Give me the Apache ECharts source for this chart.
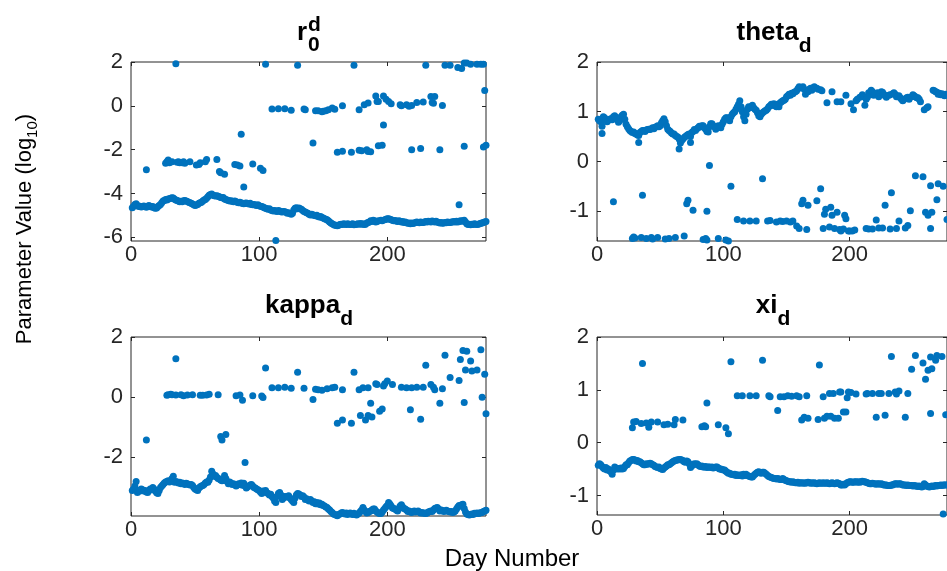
<!DOCTYPE html>
<html>
<head>
<meta charset="utf-8">
<title>Parameter values by day</title>
<script src="https://cdn.jsdelivr.net/npm/echarts@6/dist/echarts.min.js"></script>
<style>
  html, body { margin: 0; padding: 0; background: #fff; }
  #chart { width: 947px; height: 571px; }
</style>
</head>
<body>
<div id="chart"></div>
<script>
// tick labels
const xTicks = [0, 100, 200];
const r0Ticks = [-6, -4, -2, 0, 2];
const thetaTicks = [-1, 0, 1, 2];
const kappaTicks = [-2, 0, 2];
const xiTicks = [-1, 0, 1, 2];

// main band, one value per day (day 1 .. 277), null = no point
const r0Main = [
  -4.65,-4.58,-4.5,-4.47,-4.55,-4.6,-4.58,-4.62,-4.6,-4.57,
  -4.6,-4.63,-4.58,-4.55,-4.6,-4.62,-4.6,-4.65,-4.68,-4.66,
  -4.6,-4.55,-4.5,-4.42,-4.35,-4.32,-4.28,-4.3,-4.25,-4.24,
  -4.22,-4.2,-4.21,-4.26,-4.3,-4.32,-4.35,-4.38,-4.36,-4.38,
  -4.33,-4.32,-4.35,-4.37,-4.4,-4.42,-4.45,-4.48,-4.52,-4.55,
  -4.53,-4.5,-4.45,-4.42,-4.4,-4.35,-4.3,-4.28,-4.22,-4.15,
  -4.08,-4.05,-4.02,-4.08,-4.1,-4.12,-4.1,-4.13,-4.15,-4.18,
  -4.2,-4.18,-4.25,-4.28,-4.3,-4.32,-4.35,-4.33,-4.36,-4.38,
  -4.35,-4.38,-4.4,-4.42,-4.4,-4.43,-4.45,-4.47,-4.45,-4.44,
  -4.46,-4.48,-4.45,-4.5,-4.52,-4.5,-4.53,-4.55,-4.52,-4.56,
  -4.58,-4.6,-4.62,-4.65,-4.68,-4.7,-4.72,-4.7,-4.75,-4.78,
  -4.8,-4.78,-4.8,-4.82,-4.78,-4.8,-4.83,-4.85,-4.82,-4.84,
  -4.86,-4.9,-4.88,-4.92,-4.95,-4.9,-4.75,-4.68,-4.65,-4.7,
  -4.66,-4.7,-4.72,-4.78,-4.82,-4.85,-4.88,-4.9,-4.95,-4.98,
  -4.95,-4.98,-5.0,-5.02,-5.0,-5.05,-5.08,-5.05,-5.1,-5.12,
  -5.15,-5.18,-5.2,-5.25,-5.3,-5.35,-5.38,-5.42,-5.45,-5.45,
  -5.47,-5.45,-5.42,-5.4,-5.42,-5.38,-5.4,-5.42,-5.38,-5.4,
  -5.42,-5.4,-5.38,-5.43,-5.42,-5.4,-5.38,-5.4,-5.37,-5.4,
  -5.38,-5.42,-5.4,-5.35,-5.32,-5.3,-5.25,-5.28,-5.22,-5.25,
  -5.3,-5.28,-5.25,null,-5.22,-5.25,null,-5.2,-5.18,-5.15,
  -5.15,-5.18,-5.2,-5.22,-5.25,-5.24,-5.26,-5.28,-5.25,-5.27,
  -5.3,-5.28,-5.32,-5.3,-5.34,-5.36,-5.35,-5.38,-5.35,-5.37,
  -5.35,-5.33,-5.3,-5.32,-5.34,-5.3,-5.32,-5.33,-5.3,-5.28,
  -5.3,-5.27,-5.28,-5.3,-5.26,-5.28,-5.3,-5.27,-5.3,-5.32,
  -5.35,-5.33,-5.36,-5.35,-5.32,-5.34,-5.3,-5.32,-5.33,-5.3,
  -5.3,-5.28,-5.3,-5.27,-5.3,-5.28,-5.25,-5.27,-5.25,-5.22,
  -5.3,-5.38,-5.42,-5.4,-5.43,-5.4,-5.42,-5.38,-5.4,-5.42,
  -5.4,-5.38,-5.36,-5.35,-5.33,-5.3,-5.28
];
// other estimates as [day, value]
const r0Other = [
  [12,-2.92],[27,-2.62],[28,-2.55],[29,-2.47],[30,-2.6],[32,-2.55],[35,1.92],[36,-2.58],
  [37,-2.55],[38,-2.6],[40,-2.6],[41,-2.55],[42,-2.62],[46,-2.55],[51,-2.7],[53,-2.68],
  [54,-2.6],[58,-2.55],[59,-2.45],[67,-2.45],[69,-3.0],[70,-3.05],[73,-3.12],[81,-2.68],
  [83,-2.7],[85,-2.75],[86,-1.3],[88,-3.7],[95,-2.65],[101,-2.85],[103,-2.95],[105,1.9],
  [110,-0.15],[113,-6.15],[115,-0.13],[120,-0.13],[125,-0.2],[130,1.85],[135,-0.15],[136,-0.18],
  [142,-1.7],[144,-0.23],[146,-0.22],[149,-0.27],[150,-0.25],[152,-0.23],[154,-0.18],[157,-0.1],
  [159,-0.16],[161,-2.12],[165,0.0],[165,-2.07],[172,-2.12],[174,1.85],[178,-0.18],[178,-2.03],
  [180,-2.05],[182,0.05],[184,-2.0],[185,0.13],[185,-2.08],[187,-2.1],[191,0.45],[192,0.2],
  [193,0.2],[193,-1.82],[196,-1.8],[197,-0.88],[197,0.45],[199,0.3],[201,0.2],[203,0.1],
  [210,0.05],[211,0.0],[215,0.05],[217,-0.02],[219,0.02],[219,-2.0],[223,0.15],[226,-1.95],
  [228,0.18],[230,1.85],[234,0.42],[235,0.15],[236,0.12],[237,0.42],[241,-2.0],[243,0.02],
  [245,1.85],[249,1.85],[255,1.75],[256,-4.52],[258,1.7],[260,1.95],[260,-1.85],[262,1.95],
  [265,1.9],[270,1.9],[273,1.9],[275,1.9],[276,0.7],[275,-1.88],[277,-1.8]
];

const thetaMain = [
  0.85,0.82,0.8,0.71,0.9,0.88,0.84,0.8,0.83,0.85,
  0.86,0.84,0.9,0.92,0.88,0.85,0.79,0.82,0.9,0.93,
  0.95,0.85,0.75,0.7,0.66,0.62,0.6,0.58,0.59,0.56,
  0.55,0.53,0.52,0.58,0.6,0.62,0.62,0.6,0.63,0.64,
  0.65,0.64,0.66,0.68,0.66,0.69,0.7,0.72,0.7,0.72,
  0.78,0.82,0.86,0.8,0.72,0.65,0.62,0.6,0.57,0.55,
  0.55,0.52,0.5,0.49,0.45,0.37,0.42,0.45,0.48,0.5,
  0.52,0.54,0.55,0.5,0.58,0.6,0.64,0.62,0.66,0.68,
  0.71,0.7,0.72,0.72,0.68,0.65,0.6,0.59,0.7,0.76,
  0.76,0.72,0.7,0.65,0.68,0.72,0.7,0.68,0.75,0.8,
  0.85,0.88,0.88,0.85,0.82,0.9,0.95,0.98,1.0,1.05,
  1.1,1.15,1.22,1.1,1.0,0.9,0.82,0.95,1.05,1.1,
  1.08,1.1,1.13,1.08,1.05,1.03,0.98,0.92,0.9,0.95,
  0.98,1.0,1.02,1.03,1.06,1.1,1.12,1.15,1.13,1.16,
  1.12,1.1,1.15,1.1,1.18,1.2,1.22,1.23,1.25,1.3,
  1.32,1.35,1.33,1.37,1.36,1.39,1.4,1.42,1.46,1.5,
  1.48,null,1.5,1.45,1.35,null,1.4,1.45,1.47,1.43,
  1.48,1.5,null,1.47,1.45,null,1.44,1.42,null,null,
  null,1.18,null,null,null,1.4,null,null,null,1.2,
  null,null,1.2,null,null,null,1.33,null,null,null,
  1.16,null,1.04,null,1.22,1.25,null,1.29,null,1.34,
  1.3,1.13,1.25,1.29,1.38,1.35,1.43,1.4,1.33,1.35,
  null,1.38,1.3,1.36,1.4,1.39,1.35,1.32,1.29,null,
  1.33,1.34,null,1.36,1.38,1.35,1.3,1.31,1.32,1.28,
  1.25,1.22,1.25,null,1.28,1.29,1.25,null,1.3,1.34,
  1.32,1.3,1.28,1.28,1.25,1.2,null,null,1.04,null,
  1.08,1.1,null,null,null,1.43,1.42,1.4,1.39,1.35,
  1.37,1.34,1.36,1.34,1.32,1.35,1.33
];
const thetaOther = [
  [4,0.56],[13,-0.81],[28,-1.55],[29,-1.52],[30,-1.54],[33,0.38],[35,-1.53],[36,-0.68],
  [39,-1.55],[43,-1.53],[44,-1.56],[48,-1.53],[54,-1.56],[57,-1.55],[62,-1.53],[65,0.25],
  [69,-1.5],[71,-0.85],[72,-0.78],[74,0.38],[76,-0.98],[84,-1.57],[86,-1.55],[87,-1.58],
  [87,-1.0],[89,-0.08],[96,-1.55],[102,-1.58],[104,-1.6],[106,-0.5],[111,-1.17],[116,-1.2],
  [121,-1.2],[126,-1.2],[131,-0.35],[135,-1.2],[137,-1.19],[142,-1.22],[145,-1.2],[147,-1.21],
  [150,-1.2],[153,-1.22],[155,-1.2],[158,-1.3],[160,-1.35],[162,-0.85],[163,-0.78],[166,-1.37],
  [167,-0.88],[174,-0.79],[177,-0.55],[179,-1.35],[180,-1.06],[181,-0.96],[184,-1.32],[185,-0.92],
  [186,-1.08],[188,-1.35],[190,-1.02],[192,-1.37],[193,-1.4],[195,-1.36],[196,-1.08],[197,-1.15],
  [199,-1.4],[200,-1.4],[202,-1.4],[204,-1.38],[213,-1.35],[215,-1.36],[218,-1.36],[221,-1.18],
  [223,-1.34],[226,-1.34],[228,-0.88],[232,-1.36],[233,-0.63],[237,-1.35],[239,-1.2],[244,-1.34],
  [246,-1.29],[248,-0.99],[252,-0.29],[258,-0.31],[260,-1.02],[262,-1.08],[264,-1.35],[265,-1.02],
  [264,-0.49],[269,-0.77],[270,-0.45],[274,-0.5],[277,-1.17]
];

const kappaMain = [
  -3.1,-3.05,-2.95,-2.8,-3.17,-3.1,-3.12,-3.05,-3.08,-3.12,
  -3.1,-3.15,-3.17,-3.1,-3.05,-3.08,-3.0,-3.05,-3.12,-3.18,
  -3.2,-3.1,-3.0,-2.95,-2.9,-2.85,-2.82,-2.8,-2.78,-2.82,
  -2.78,-2.7,-2.63,-2.83,-2.8,-2.82,-2.85,-2.83,-2.88,-2.85,
  -2.87,-2.9,-2.86,-2.88,-2.9,-2.92,-2.9,-2.94,-3.0,-3.05,
  -3.08,-3.1,-3.02,-2.98,-2.95,-2.94,-2.9,-2.85,-2.82,-2.83,
  -2.75,-2.65,-2.46,-2.55,-2.63,-2.6,-2.66,-2.7,-2.72,-2.75,
  -2.78,-2.77,-2.6,-2.7,-2.8,-2.88,-2.82,-2.85,-2.9,-2.88,
  -2.9,-2.95,-2.92,-2.88,-2.9,-2.85,-2.93,-2.86,-2.95,-3.02,
  -2.98,-2.95,-2.92,-2.9,-2.95,-3.0,-3.02,-3.05,-3.08,-3.1,
  -3.15,-3.2,-3.12,-3.15,-3.1,-3.18,-3.2,-3.25,-3.23,-3.3,
  -3.35,-3.45,-3.5,-3.3,-3.2,-3.17,-3.25,-3.4,-3.35,-3.3,
  -3.32,-3.3,-3.28,-3.35,-3.4,-3.45,-3.5,-3.35,-3.25,-3.2,
  -3.22,-3.25,-3.3,-3.28,-3.32,-3.4,-3.38,-3.42,-3.45,-3.4,
  -3.45,-3.5,-3.48,-3.54,-3.5,-3.55,-3.52,-3.58,-3.56,-3.6,
  -3.62,-3.65,-3.67,-3.72,-3.75,-3.8,-3.83,-3.88,-3.9,-3.92,
  -3.94,-3.9,-3.88,-3.85,-3.83,-3.86,-3.88,-3.85,-3.9,-3.87,
  -3.85,-3.88,-3.9,-3.86,-3.9,-3.92,-3.88,-3.85,-3.8,-3.75,
  -3.67,-3.75,-3.8,-3.85,-3.83,-3.8,-3.78,-3.75,-3.72,-3.72,
  -3.78,-3.82,-3.85,-3.87,-3.87,-3.82,-3.75,-3.7,-3.64,-3.6,
  -3.5,-3.55,-3.62,-3.68,-3.7,-3.72,-3.75,-3.78,-3.7,-3.62,
  -3.58,-3.65,-3.7,-3.72,-3.75,-3.8,-3.78,-3.82,-3.83,-3.8,
  -3.78,-3.82,-3.8,-3.78,-3.82,-3.85,-3.83,-3.86,-3.85,-3.87,
  -3.85,-3.82,-3.8,-3.78,-3.8,-3.75,-3.7,-3.68,-3.67,-3.72,
  -3.78,-3.75,-3.77,-3.8,-3.78,-3.76,-3.78,-3.8,-3.82,-3.8,
  -3.83,-3.82,-3.78,-3.72,-3.65,-3.6,-3.62,-3.58,-3.56,-3.7,
  -3.82,-3.88,-3.9,-3.92,-3.9,-3.88,-3.9,-3.86,-3.87,-3.85,
  -3.87,-3.85,-3.84,-3.83,-3.8,-3.78,-3.76
];
const kappaOther = [
  [12,-1.42],[28,0.06],[29,0.08],[31,0.1],[32,0.08],[35,1.28],[35,0.07],[39,0.08],
  [41,0.05],[44,0.07],[48,0.08],[54,0.06],[56,0.06],[59,0.07],[61,0.1],[68,0.08],
  [70,-1.31],[71,-1.42],[74,-1.24],[82,0.05],[85,0.07],[87,-0.1],[89,-2.17],[95,0.05],
  [102,0.04],[103,-0.01],[105,0.97],[110,0.31],[115,0.31],[120,0.33],[125,0.3],[130,0.83],
  [135,0.3],[142,-0.08],[144,0.26],[146,0.25],[149,0.23],[153,0.28],[157,0.31],[159,0.33],
  [161,-0.87],[165,-0.76],[165,0.25],[172,-0.87],[174,0.83],[178,0.25],[179,-0.61],[181,0.31],
  [183,-0.76],[185,0.31],[185,-0.61],[187,-0.2],[188,-0.66],[191,0.45],[192,0.42],[194,-0.47],
  [196,-0.39],[197,0.37],[198,0.45],[200,0.54],[204,0.42],[211,0.33],[215,0.31],[219,0.31],
  [218,-0.42],[223,0.33],[226,-0.73],[228,0.33],[230,1.06],[234,0.42],[236,0.33],[237,0.25],
  [241,-0.2],[243,0.28],[245,1.39],[249,0.65],[256,0.55],[257,1.25],[259,1.55],[260,-0.18],
  [261,0.9],[262,1.53],[265,1.2],[266,0.87],[270,0.9],[273,1.58],[274,0.0],[276,0.76],
  [277,-0.55]
];

const xiMain = [
  -0.43,-0.4,-0.42,-0.45,-0.48,-0.5,-0.47,-0.52,-0.5,-0.53,
  -0.55,-0.6,-0.52,-0.46,-0.48,-0.5,-0.49,-0.5,-0.48,-0.5,
  -0.49,-0.45,-0.42,-0.42,-0.38,-0.35,-0.34,-0.32,-0.32,-0.33,
  -0.35,-0.34,-0.36,-0.36,-0.38,-0.4,-0.42,-0.42,-0.4,-0.41,
  -0.4,-0.39,-0.4,-0.42,-0.43,-0.45,-0.46,-0.47,-0.46,-0.49,
  -0.5,-0.51,-0.48,-0.46,-0.44,-0.42,-0.42,-0.4,-0.38,-0.36,
  -0.35,-0.34,-0.33,-0.33,-0.32,-0.32,-0.33,-0.34,-0.36,-0.37,
  -0.35,-0.36,-0.4,-0.47,-0.44,-0.42,-0.4,-0.41,-0.4,-0.42,
  -0.44,-0.45,-0.44,-0.46,-0.46,-0.45,-0.47,-0.46,-0.46,-0.47,
  -0.46,-0.48,-0.47,-0.46,-0.46,-0.48,-0.5,-0.5,-0.51,-0.52,
  -0.52,-0.54,-0.56,-0.58,-0.58,-0.6,-0.6,-0.61,-0.6,-0.62,
  -0.61,-0.62,-0.62,-0.61,-0.63,-0.6,-0.62,-0.6,-0.62,-0.63,
  -0.64,-0.65,-0.65,-0.62,-0.6,-0.58,-0.56,-0.55,-0.57,-0.58,
  -0.56,-0.56,-0.58,-0.6,-0.62,-0.64,-0.65,-0.66,-0.67,-0.68,
  -0.68,-0.69,-0.68,-0.69,-0.7,-0.7,-0.68,-0.7,-0.71,-0.72,
  -0.73,-0.74,-0.74,-0.75,-0.74,-0.75,-0.76,-0.76,-0.75,-0.77,
  -0.76,-0.76,-0.77,-0.76,-0.77,-0.76,-0.75,-0.76,-0.77,-0.76,
  -0.77,-0.76,-0.77,-0.78,-0.77,-0.76,-0.77,-0.77,-0.76,-0.77,
  -0.77,-0.76,-0.77,-0.78,-0.77,-0.76,-0.77,-0.78,-0.77,-0.76,
  -0.77,-0.78,-0.8,-0.8,-0.79,-0.8,-0.78,-0.76,-0.75,-0.74,
  -0.74,-0.75,-0.75,-0.74,-0.74,-0.75,-0.74,-0.75,-0.74,-0.73,
  -0.74,-0.74,-0.75,-0.76,-0.77,-0.78,-0.78,-0.77,-0.78,-0.78,
  -0.79,-0.78,-0.78,-0.79,-0.78,-0.79,-0.8,-0.8,-0.8,-0.81,
  -0.81,-0.81,-0.8,-0.8,-0.79,-0.78,-0.78,-0.79,-0.78,-0.78,
  -0.79,-0.8,-0.8,-0.8,-0.81,-0.8,-0.81,-0.81,-0.81,-0.82,
  -0.81,-0.82,-0.82,-0.83,-0.82,-0.83,-0.84,-0.83,-0.78,-0.8,
  -0.82,-0.83,-0.84,-0.83,-0.82,-0.83,-0.82,-0.81,-0.82,-0.81,
  -0.81,-0.8,-0.81,-0.8,-0.8,-0.8,-0.8
];
const xiOther = [
  [28,0.28],[29,0.39],[31,0.4],[35,0.36],[36,1.5],[39,0.37],[41,0.29],[43,0.39],
  [48,0.39],[53,0.34],[56,0.35],[61,0.34],[62,0.44],[68,0.43],[83,0.3],[85,0.32],
  [86,0.3],[87,0.75],[96,0.34],[102,0.28],[104,0.17],[106,1.53],[111,0.89],[115,0.89],
  [121,0.89],[126,0.89],[131,1.56],[136,0.89],[137,0.87],[143,0.61],[145,0.87],[148,0.87],
  [151,0.89],[154,0.88],[158,0.89],[160,0.87],[162,0.43],[164,0.48],[166,0.89],[167,0.46],
  [175,0.44],[176,1.47],[179,0.87],[180,0.46],[182,0.5],[184,0.93],[185,0.5],[187,0.93],
  [188,0.46],[191,0.46],[192,0.96],[193,0.96],[195,0.58],[197,0.58],[198,0.85],[199,0.96],
  [201,0.95],[205,0.92],[213,0.92],[214,0.93],[218,0.93],[221,0.48],[223,0.93],[225,0.93],
  [228,0.52],[231,0.93],[233,1.63],[236,0.96],[237,0.92],[239,0.98],[244,0.48],[246,0.93],
  [249,1.39],[252,1.65],[258,1.51],[260,1.2],[262,1.37],[264,1.62],[264,0.55],[265,1.4],
  [268,1.56],[269,1.65],[273,1.63],[274,-1.35],[276,0.53]
];

const FONT = '"Liberation Sans", Arial, Helvetica, sans-serif';
const INK = '#262626';
const BLUE = '#0072BD';
const X_MAX = 277;

const panels = [
  { main: r0Main, other: r0Other, ticks: r0Ticks, min: -6.17, box: { left: 131, top: 62, width: 355, height: 179 } },
  { main: thetaMain, other: thetaOther, ticks: thetaTicks, min: -1.6, box: { left: 597, top: 62, width: 352, height: 179 } },
  { main: kappaMain, other: kappaOther, ticks: kappaTicks, min: -3.95, box: { left: 131, top: 337, width: 355, height: 179 } },
  { main: xiMain, other: xiOther, ticks: xiTicks, min: -1.37, box: { left: 597, top: 337, width: 352, height: 178 } }
];

function dayPoints(main) {
  const pts = [];
  main.forEach((v, i) => { if (v !== null) pts.push([i + 1, v]); });
  return pts;
}

const labelStyle = { color: INK, fontSize: 22, fontFamily: FONT };
const grids = [], xAxes = [], yAxes = [], series = [];

panels.forEach((p, i) => {
  grids.push(Object.assign({ show: true, borderColor: INK, borderWidth: 1, backgroundColor: 'transparent' }, p.box));
  const tick = (vals) => ({ inside: true, length: 4, customValues: vals, lineStyle: { color: INK } });
  const noLine = { show: false, onZero: false };
  xAxes.push({
    type: 'value', gridIndex: i, min: 0, max: X_MAX, position: 'bottom',
    axisLine: noLine, splitLine: { show: false },
    axisTick: tick(xTicks),
    axisLabel: Object.assign({ customValues: xTicks, margin: 3 }, labelStyle)
  });
  xAxes.push({
    type: 'value', gridIndex: i, min: 0, max: X_MAX, position: 'top',
    axisLine: noLine, splitLine: { show: false },
    axisTick: tick(xTicks), axisLabel: { show: false }
  });
  yAxes.push({
    type: 'value', gridIndex: i, min: p.min, max: 2, position: 'left',
    axisLine: noLine, splitLine: { show: false },
    axisTick: tick(p.ticks),
    axisLabel: Object.assign({ customValues: p.ticks, margin: 8 }, labelStyle)
  });
  yAxes.push({
    type: 'value', gridIndex: i, min: p.min, max: 2, position: 'right',
    axisLine: noLine, splitLine: { show: false },
    axisTick: tick(p.ticks), axisLabel: { show: false }
  });
  series.push({
    type: 'scatter', xAxisIndex: i * 2, yAxisIndex: i * 2,
    data: dayPoints(p.main).concat(p.other),
    symbolSize: 7, itemStyle: { color: BLUE, opacity: 1 }, silent: true
  });
});

function txt(text, x, y, size, bold, align) {
  return {
    type: 'text', x: x, y: y, silent: true,
    style: {
      text: text, fill: '#000', fontSize: size, fontFamily: FONT,
      fontWeight: bold ? 'bold' : 'normal', align: align || 'left', verticalAlign: 'middle'
    }
  };
}

// panel title: name with subscript, centred over the panel
function subTitle(name, sub, cx, y) {
  return {
    type: 'text', x: cx, y: y, silent: true,
    style: {
      text: '{m|' + name + '}{s|' + sub + '}',
      align: 'center', verticalAlign: 'middle',
      rich: {
        m: { fontSize: 26, fontWeight: 'bold', fontFamily: FONT, lineHeight: 47, fill: '#000' },
        s: { fontSize: 21, fontWeight: 'bold', fontFamily: FONT, verticalAlign: 'bottom', fill: '#000' }
      }
    }
  };
}

const graphics = [
  // r_0^d
  txt('r', 297, 33, 26, true),
  txt('0', 308, 45, 21, true),
  txt('d', 308, 25, 21, true),
  subTitle('theta', 'd', 774, 33),
  subTitle('kappa', 'd', 309, 306),
  subTitle('xi', 'd', 773, 306),
  // axis titles
  txt('Day Number', 512, 559, 24, false, 'center'),
  {
    type: 'text', x: 25, y: 229, rotation: Math.PI / 2, silent: true,
    style: {
      text: '{a|Parameter Value (log}{s|10}{a|)}',
      align: 'center', verticalAlign: 'middle', fill: '#000',
      rich: {
        a: { fontSize: 22, fontFamily: FONT, lineHeight: 30, fill: '#000' },
        s: { fontSize: 15, fontFamily: FONT, verticalAlign: 'bottom', fill: '#000' }
      }
    }
  }
];

const chart = echarts.init(document.getElementById('chart'), null, { renderer: 'canvas' });
chart.setOption({
  animation: false,
  backgroundColor: '#fff',
  grid: grids,
  xAxis: xAxes,
  yAxis: yAxes,
  series: series,
  graphic: graphics
});
</script>
</body>
</html>
